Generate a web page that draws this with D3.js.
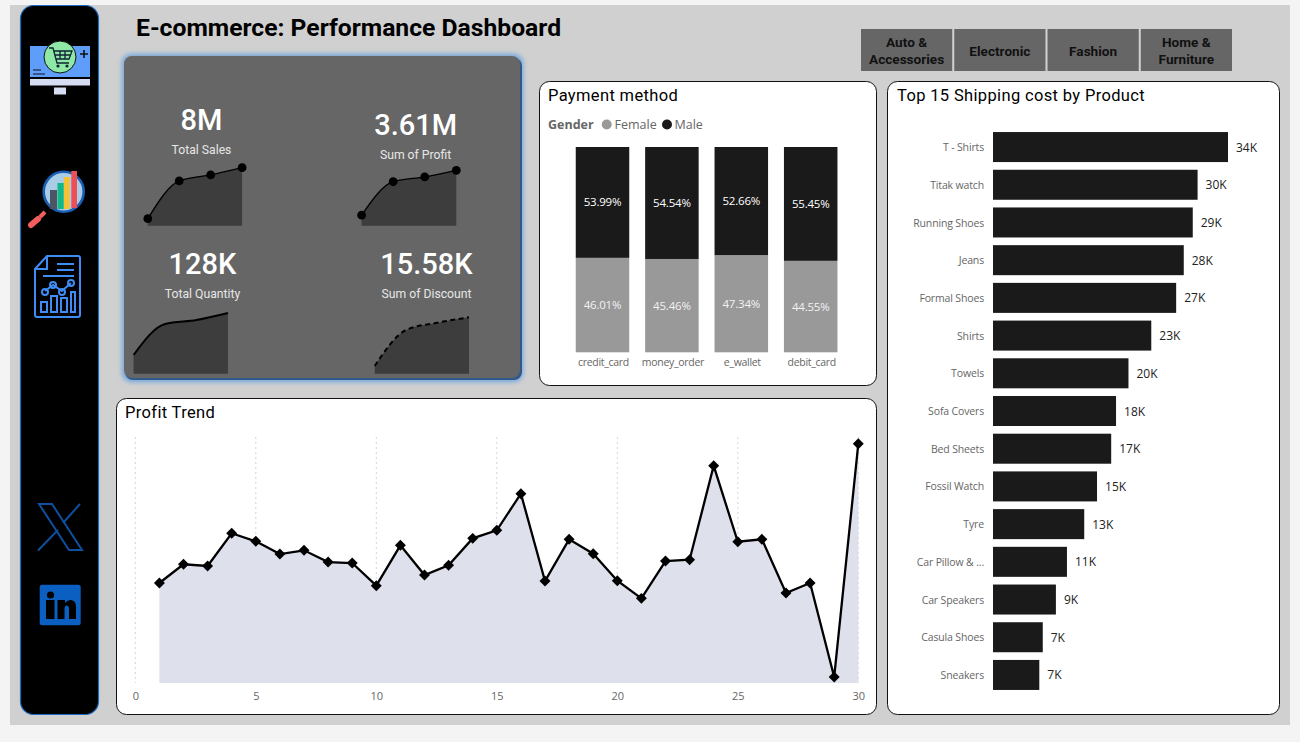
<!DOCTYPE html>
<html>
<head>
<meta charset="utf-8">
<script src="https://cdn.jsdelivr.net/npm/d3@7"></script>
<style>
  html, body { margin: 0; padding: 0; background: #f4f4f4; overflow: hidden; }
  svg { display: block; }
  text { font-family: "Open Sans", sans-serif; }
  .din { font-family: Roboto, sans-serif; }
</style>
</head>
<body>
<svg width="1300" height="742"></svg>
<script>
// data
var buttonNames = [["Auto &", "Accessories"], ["Electronic"], ["Fashion"], ["Home &", "Furniture"]];

var quarters = ["Q1", "Q2", "Q3", "Q4"];
var salesByQuarter = [0.35, 2.23, 2.53, 2.89];
var profitByQuarter = [0.24, 1.00, 1.11, 1.26];
var quantityByQuarter = [13.1, 34.8, 37.6, 42.5];
var discountByQuarter = [0.76, 4.29, 5.00, 5.53];

var paymentMethods = ["credit_card", "money_order", "e_wallet", "debit_card"];
var femaleShare = [46.01, 45.46, 47.34, 44.55];
var maleShare = [53.99, 54.54, 52.66, 55.45];

var days = [1,2,3,4,5,6,7,8,9,10,11,12,13,14,15,16,17,18,19,20,21,22,23,24,25,26,27,28,29,30];
var dailyProfit = [94.5,112.2,110.6,141.5,133.9,121.9,125.4,114.3,113.4,92,130.1,102,111.2,136.7,144.3,178.9,96.4,135.8,122.2,96.7,80,115.3,116.5,205.3,133.5,135.8,85,94.5,5.7,226.1];
var dayTicks = [0,5,10,15,20,25,30];

var products = ["T - Shirts","Titak watch","Running Shoes","Jeans","Formal Shoes","Shirts","Towels","Sofa Covers","Bed Sheets","Fossil Watch","Tyre","Car Pillow & ...","Car Speakers","Casula Shoes","Sneakers"];
var shippingCost = [34, 29.6, 28.9, 27.6, 26.5, 22.9, 19.6, 17.8, 17.1, 15.05, 13.2, 10.7, 9.1, 7.2, 6.7];

var svg = d3.select("svg");
var defs = svg.append("defs");

var glow = defs.append("filter").attr("id", "glow")
  .attr("x", "-5%").attr("y", "-5%").attr("width", "110%").attr("height", "110%");
glow.append("feGaussianBlur").attr("stdDeviation", 2.5);

// background
svg.append("rect").attr("x", 10).attr("y", 5).attr("width", 1280).attr("height", 720).attr("fill", "#d0d0d0");

// side bar
svg.append("rect").attr("x", 20.5).attr("y", 5.5).attr("width", 78).attr("height", 709).attr("rx", 13)
  .attr("fill", "#000").attr("stroke", "#1a6cc0").attr("stroke-width", 1.2);

// computer + cart icon
var icon = svg.append("g");
icon.append("rect").attr("x", 30).attr("y", 46).attr("width", 60).attr("height", 31).attr("fill", "#5f9dfb");
icon.append("rect").attr("x", 30).attr("y", 79).attr("width", 60).attr("height", 6.5).attr("fill", "#d6dcf2");
icon.append("rect").attr("x", 54).attr("y", 87.5).attr("width", 12).attr("height", 7).attr("fill", "#d6dcf2");
icon.append("path").attr("d", "M33 70H41M33 74H45").attr("stroke", "#111").attr("stroke-width", 1.2);
icon.append("path").attr("d", "M80 54H88M84 50V58").attr("stroke", "#111").attr("stroke-width", 1.6);
icon.append("circle").attr("cx", 60).attr("cy", 57).attr("r", 16).attr("fill", "#8fe9a6").attr("stroke", "#111").attr("stroke-width", 1);
icon.append("path").attr("d", "M49 48H53L57 63H69M54 51H72L69 59H56M60 51V59M65 51V59M55 55H71")
  .attr("fill", "none").attr("stroke", "#123").attr("stroke-width", 1.3);
icon.append("circle").attr("cx", 58).attr("cy", 66).attr("r", 1.6).attr("fill", "#123");
icon.append("circle").attr("cx", 67).attr("cy", 66).attr("r", 1.6).attr("fill", "#123");

// magnifier icon
var lens = svg.append("g");
lens.append("circle").attr("cx", 63.7).attr("cy", 191.7).attr("r", 20).attr("fill", "#a9cde6").attr("stroke", "#1a5fb4").attr("stroke-width", 2.6);
lens.append("rect").attr("x", 50).attr("y", 190).attr("width", 7).attr("height", 19).attr("fill", "#4b5563");
lens.append("rect").attr("x", 57.5).attr("y", 183).attr("width", 6.2).attr("height", 26).attr("fill", "#12b886");
lens.append("rect").attr("x", 64).attr("y", 177).attr("width", 5.6).attr("height", 32).attr("fill", "#f7c133");
lens.append("rect").attr("x", 71.3).attr("y", 171).attr("width", 5.7).attr("height", 37).attr("fill", "#ee4f55");
lens.append("path").attr("d", "M31 225L38 219").attr("stroke", "#f25d5d").attr("stroke-width", 6).attr("stroke-linecap", "round");
lens.append("path").attr("d", "M40 217L45 212").attr("stroke", "#f25d5d").attr("stroke-width", 4);

// report icon
var report = svg.append("g").attr("fill", "none").attr("stroke", "#3f8cf5").attr("stroke-width", 2);
report.append("path").attr("d", "M47 256H78Q80 256 80 258V315Q80 317 78 317H37Q35 317 35 315V269ZM47 256V269H35");
report.append("path").attr("d", "M57 264H74M57 270H74M43 276H74");
report.append("path").attr("d", "M45 291L53 285L62 291L71 283");
report.append("circle").attr("cx", 45).attr("cy", 292).attr("r", 3);
report.append("circle").attr("cx", 53).attr("cy", 285).attr("r", 3);
report.append("circle").attr("cx", 62).attr("cy", 292).attr("r", 3);
report.append("circle").attr("cx", 71).attr("cy", 283).attr("r", 3);
report.append("path").attr("d", "M41 302H47V312H41ZM51 296H57V312H51ZM61 298H67V312H61ZM71 292H75V312H71Z");

// X logo
svg.append("path").attr("d", "M39 504H52L82 550H69ZM80 504L63 523M58 530L38 550.5")
  .attr("fill", "none").attr("stroke", "#0e4f9e").attr("stroke-width", 2);

// linkedin logo
var li = svg.append("g");
li.append("rect").attr("x", 39.7).attr("y", 584.7).attr("width", 41).attr("height", 40.6).attr("rx", 2.5).attr("fill", "#0a5fc0");
li.append("circle").attr("cx", 50.5).attr("cy", 595).attr("r", 3.6).attr("fill", "#000");
li.append("rect").attr("x", 46).attr("y", 600).attr("width", 8.5).attr("height", 19).attr("fill", "#000");
li.append("path").attr("d", "M57.5 600H65V603Q68 599.5 71 600Q76 600.5 76 607V619H69V609Q69 605.5 66.5 605.5Q64.5 605.5 64.5 609V619H57.5Z").attr("fill", "#000");

// title
svg.append("text").attr("class", "din").attr("x", 136).attr("y", 36)
  .attr("font-size", 24.7).attr("font-weight", 700).attr("fill", "#000")
  .text("E-commerce: Performance Dashboard");

// buttons
var buttonX = d3.scaleBand().domain(buttonNames.map(function(d){return d.join(" ");})).range([861, 1232]).paddingInner(0.022);
var buttons = svg.append("g").selectAll("g").data(buttonNames).enter().append("g")
  .attr("transform", function(d){return "translate(" + buttonX(d.join(" ")) + ",29)";});
buttons.append("rect").attr("width", buttonX.bandwidth()).attr("height", 42).attr("fill", "#666");
buttons.selectAll("text").data(function(d){return d;}).enter().append("text")
  .attr("class", "din")
  .attr("x", buttonX.bandwidth() / 2)
  .attr("y", function(d,i){
    var n = d3.select(this.parentNode).datum().length;
    return n == 1 ? 27 : 18 + i * 17;
  })
  .attr("text-anchor", "middle").attr("font-size", 13.6).attr("font-weight", 700).attr("fill", "#111")
  .text(function(d){return d;});

// KPI panel
svg.append("rect").attr("x", 122).attr("y", 54).attr("width", 401).attr("height", 328).attr("rx", 9)
  .attr("fill", "#6fa5dc").attr("filter", "url(#glow)");
svg.append("rect").attr("x", 125).attr("y", 58).attr("width", 397).attr("height", 322).attr("rx", 8).attr("fill", "#33588c");
svg.append("rect").attr("x", 124).attr("y", 56).attr("width", 396).attr("height", 322).attr("rx", 8).attr("fill", "#666");

function kpi(value, label, cx, valueY, labelY) {
  svg.append("text").attr("class", "din").attr("x", cx).attr("y", valueY).attr("text-anchor", "middle")
    .attr("font-size", 29).attr("font-weight", 500).attr("fill", "#fff").text(value);
  svg.append("text").attr("class", "din").attr("x", cx).attr("y", labelY).attr("text-anchor", "middle")
    .attr("font-size", 12.2).attr("fill", "#e6e6e6").text(label);
}
kpi("8M", "Total Sales", 201.5, 130, 154);
kpi("3.61M", "Sum of Profit", 415.6, 135, 159);
kpi("128K", "Total Quantity", 202.5, 274, 298);
kpi("15.58K", "Sum of Discount", 426.5, 274, 298);

function spark(values, x0, x1, y0, y1, lineWidth, dash, dots) {
  var xs = d3.scalePoint().domain(quarters).range([x0, x1]);
  var ys = d3.scaleLinear().domain([0, d3.max(values)]).range([y0, y1]);
  var area = d3.area().x(function(d,i){return xs(quarters[i]);}).y0(y0).y1(function(d){return ys(d);}).curve(d3.curveMonotoneX);
  var line = d3.line().x(function(d,i){return xs(quarters[i]);}).y(function(d){return ys(d);}).curve(d3.curveMonotoneX);
  var g = svg.append("g");
  g.append("path").attr("d", area(values)).attr("fill", "#3d3d3d");
  g.append("path").attr("d", line(values)).attr("fill", "none").attr("stroke", "#000")
    .attr("stroke-width", lineWidth).attr("stroke-dasharray", dash);
  if (dots) {
    g.selectAll("circle").data(values).enter().append("circle")
      .attr("cx", function(d,i){return xs(quarters[i]);})
      .attr("cy", function(d){return ys(d);})
      .attr("r", 4.4).attr("fill", "#000");
  }
}
spark(salesByQuarter, 147.8, 242.1, 225.7, 167.7, 1.3, null, true);
spark(profitByQuarter, 361.6, 456.3, 225.7, 170.3, 1.3, null, true);
spark(quantityByQuarter, 133.6, 228, 373.7, 313, 2, null, false);
spark(discountByQuarter, 374.7, 469, 373.7, 317.3, 2, "5,3.5", false);

// cards
function card(x, y, w, h, title, titleX, titleY) {
  svg.append("rect").attr("x", x).attr("y", y).attr("width", w).attr("height", h).attr("rx", 10)
    .attr("fill", "#fff").attr("stroke", "#111").attr("stroke-width", 1);
  svg.append("text").attr("class", "din").attr("x", titleX).attr("y", titleY)
    .attr("font-size", 16.5).attr("letter-spacing", 0.35).attr("fill", "#000").text(title);
}
card(539.5, 81.5, 337, 304, "Payment method", 548, 101);
card(116.5, 398.5, 760, 316, "Profit Trend", 125, 418);
card(887.5, 81.5, 392, 633, "Top 15 Shipping cost by Product", 897, 101);

// payment method legend
var legend = svg.append("g").attr("font-size", 12.5).attr("fill", "#666");
legend.append("text").attr("x", 548).attr("y", 129).attr("font-weight", 700).text("Gender");
legend.append("circle").attr("cx", 606.7).attr("cy", 124.5).attr("r", 5).attr("fill", "#999");
legend.append("text").attr("x", 614.5).attr("y", 129).text("Female");
legend.append("circle").attr("cx", 667).attr("cy", 124.5).attr("r", 5).attr("fill", "#1a1a1a");
legend.append("text").attr("x", 674.5).attr("y", 129).text("Male");

// payment method stacked bars
var xs = d3.scaleBand().domain(paymentMethods).range([567.8, 845.4]).paddingInner(0.229).paddingOuter(0.1145);
var ys = d3.scaleLinear().domain([0, 100]).range([352.3, 147]);
var pay = svg.append("g");
pay.selectAll("rect.female").data(femaleShare).enter().append("rect").attr("class", "female")
  .attr("x", function(d,i){return xs(paymentMethods[i]);})
  .attr("y", function(d){return ys(d);})
  .attr("width", xs.bandwidth())
  .attr("height", function(d){return ys(0) - ys(d);})
  .attr("fill", "#999");
pay.selectAll("rect.male").data(maleShare).enter().append("rect").attr("class", "male")
  .attr("x", function(d,i){return xs(paymentMethods[i]);})
  .attr("y", ys(100))
  .attr("width", xs.bandwidth())
  .attr("height", function(d){return ys(0) - ys(d);})
  .attr("fill", "#1a1a1a");
pay.selectAll("text.flabel").data(femaleShare).enter().append("text").attr("class", "flabel")
  .attr("x", function(d,i){return xs(paymentMethods[i]) + xs.bandwidth() / 2;})
  .attr("y", function(d){return ys(d / 2) + 4;})
  .attr("text-anchor", "middle").attr("font-size", 11.5).attr("letter-spacing", -0.2).attr("fill", "#f2f2f2")
  .text(function(d){return d.toFixed(2) + "%";});
pay.selectAll("text.mlabel").data(maleShare).enter().append("text").attr("class", "mlabel")
  .attr("x", function(d,i){return xs(paymentMethods[i]) + xs.bandwidth() / 2;})
  .attr("y", function(d){return ys(100 - d / 2) + 4;})
  .attr("text-anchor", "middle").attr("font-size", 11.5).attr("letter-spacing", -0.2).attr("fill", "#fff")
  .text(function(d){return d.toFixed(2) + "%";});

var payAxis = svg.append("g").attr("transform", "translate(1,352.3)")
  .call(d3.axisBottom(xs).tickSize(0).tickPadding(6));
payAxis.select(".domain").remove();
payAxis.selectAll("text").attr("font-family", '"Open Sans", sans-serif').attr("font-size", 10.5).attr("letter-spacing", -0.3).attr("fill", "#666");

// profit trend
var xd = d3.scaleLinear().domain([0, 30]).range([135.3, 858.3]);
var yd = d3.scaleLinear().domain([0, 232.5]).range([683, 437]);

var dayAxis = svg.append("g").attr("transform", "translate(0,683)")
  .call(d3.axisBottom(xd).tickValues(dayTicks).tickFormat(d3.format("d")).tickSize(0).tickPadding(9));
dayAxis.select(".domain").remove();
dayAxis.selectAll("text").attr("font-family", '"Open Sans", sans-serif').attr("font-size", 11).attr("fill", "#666");

svg.append("g").selectAll("line").data(dayTicks).enter().append("line")
  .attr("x1", function(d){return xd(d);})
  .attr("x2", function(d){return xd(d);})
  .attr("y1", 437).attr("y2", 683)
  .attr("stroke", "#d4d4d4").attr("stroke-width", 1).attr("stroke-dasharray", "2,3");

var profitArea = d3.area().x(function(d,i){return xd(days[i]);}).y0(yd(0)).y1(function(d){return yd(d);});
var profitLine = d3.line().x(function(d,i){return xd(days[i]);}).y(function(d){return yd(d);});
svg.append("path").attr("d", profitArea(dailyProfit)).attr("fill", "#dcdeea").attr("fill-opacity", 0.95);
svg.append("path").attr("d", profitLine(dailyProfit)).attr("fill", "none").attr("stroke", "#000").attr("stroke-width", 2.3);
svg.append("g").selectAll("path").data(dailyProfit).enter().append("path")
  .attr("d", d3.symbol().type(d3.symbolSquare).size(60))
  .attr("transform", function(d,i){return "translate(" + xd(days[i]) + "," + yd(d) + ") rotate(45)";})
  .attr("fill", "#000");

// shipping cost bars
var xb = d3.scaleLinear().domain([0, 34]).range([993, 1228]);
var yb = d3.scaleBand().domain(products).range([128.2, 693.8]).paddingInner(0.204).paddingOuter(0.102);

svg.append("g").selectAll("rect").data(shippingCost).enter().append("rect")
  .attr("x", xb(0))
  .attr("y", function(d,i){return yb(products[i]);})
  .attr("width", function(d){return xb(d) - xb(0);})
  .attr("height", yb.bandwidth())
  .attr("fill", "#1a1a1a");

var productAxis = svg.append("g").attr("transform", "translate(993,0.7)")
  .call(d3.axisLeft(yb).tickSize(0).tickPadding(9));
productAxis.select(".domain").remove();
productAxis.selectAll("text").attr("font-family", '"Open Sans", sans-serif').attr("font-size", 10.5).attr("letter-spacing", -0.15).attr("fill", "#666");

svg.append("g").selectAll("text").data(shippingCost).enter().append("text")
  .attr("x", function(d){return xb(d) + 8;})
  .attr("y", function(d,i){return yb(products[i]) + yb.bandwidth() / 2 + 4.5;})
  .attr("font-size", 12).attr("fill", "#222")
  .text(function(d){return Math.round(d) + "K";});
</script>
</body>
</html>
